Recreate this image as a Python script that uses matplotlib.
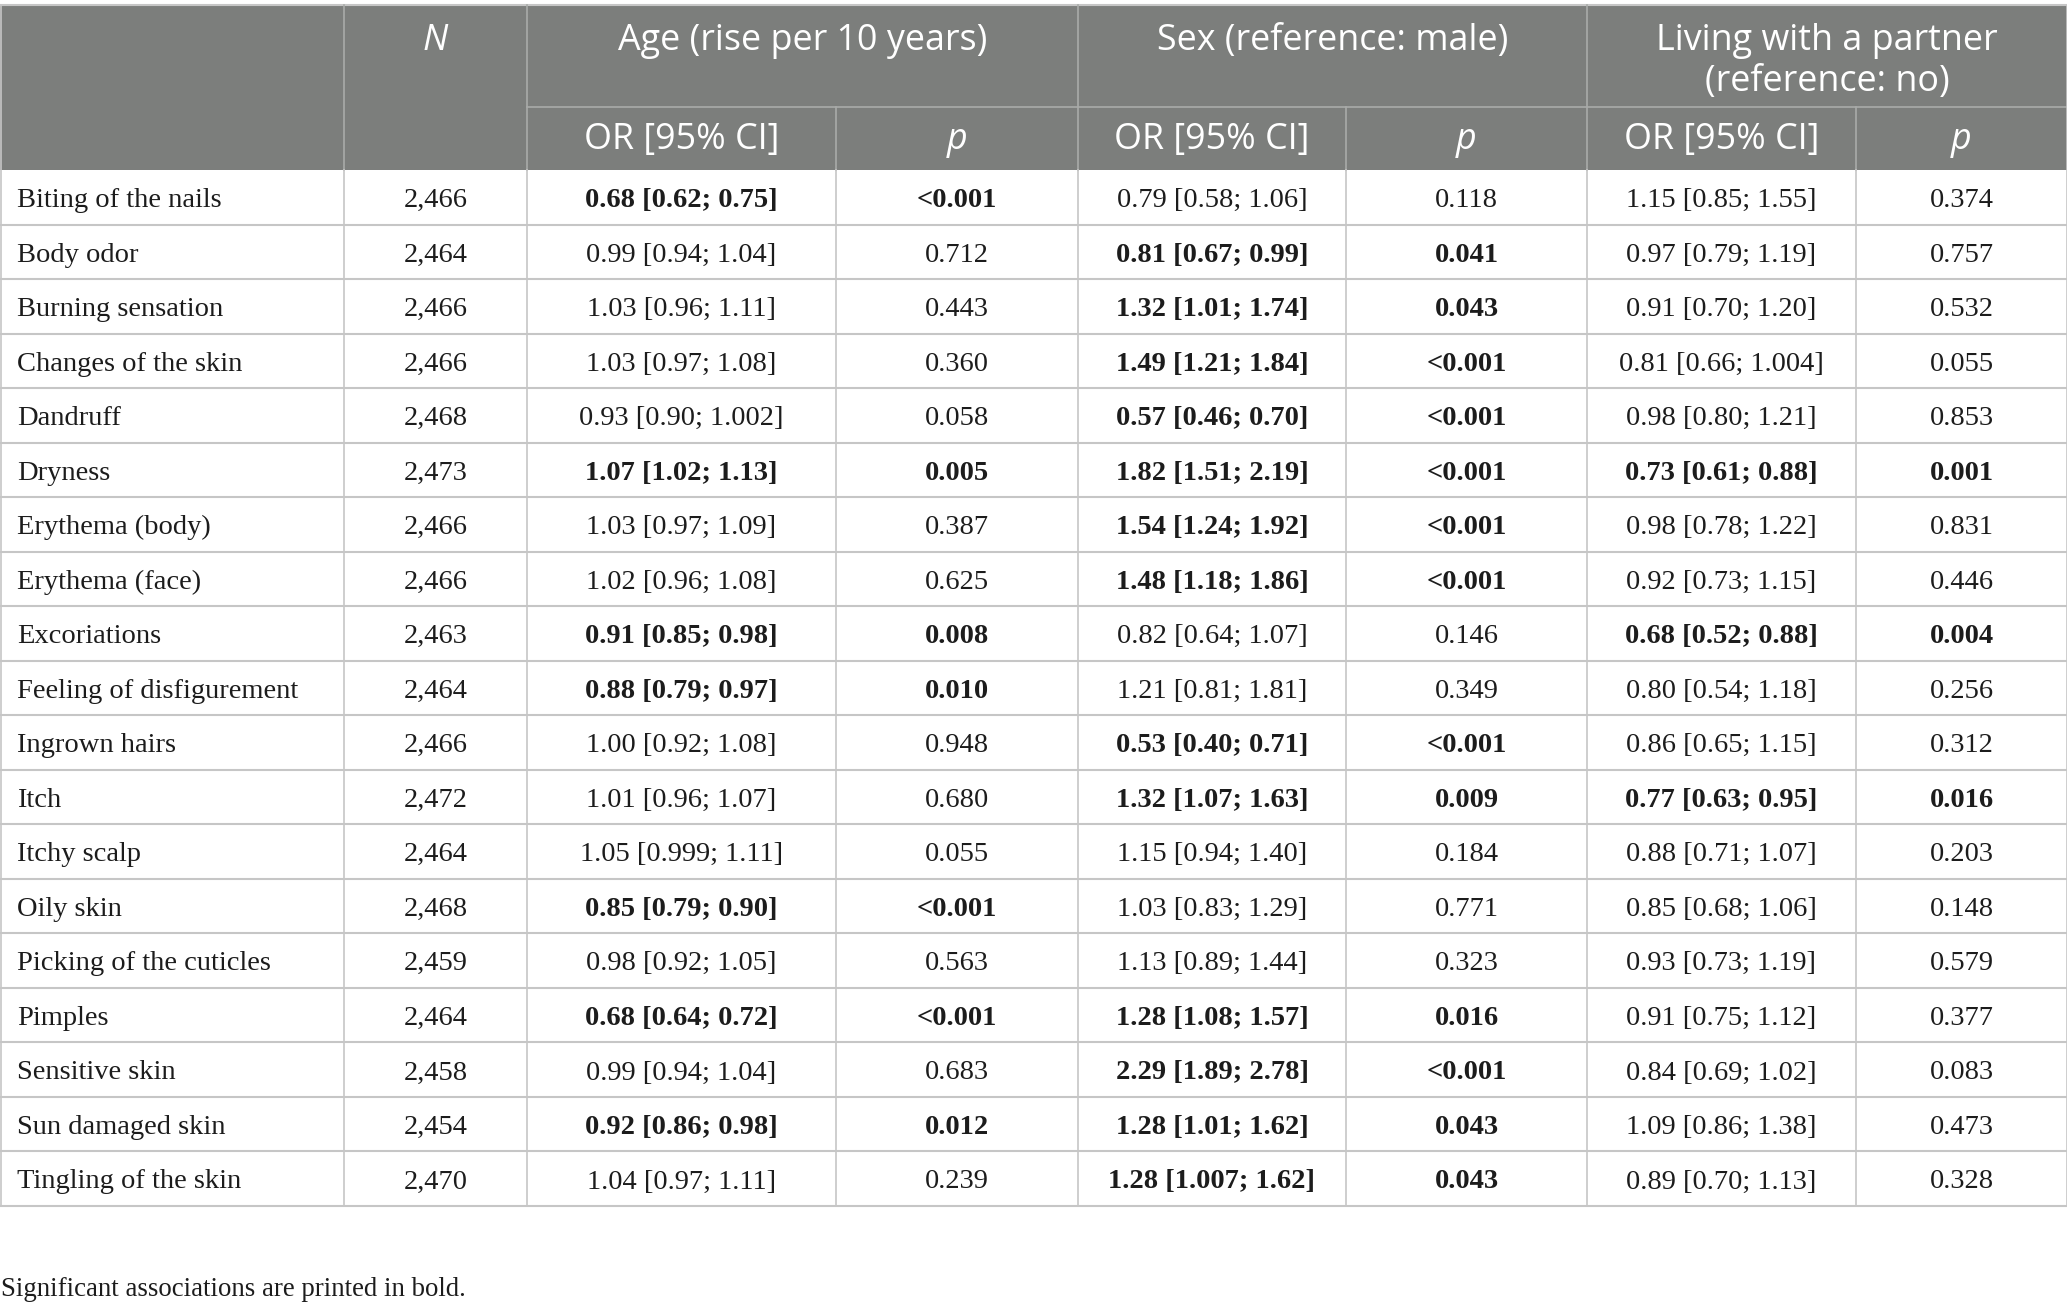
import matplotlib
matplotlib.use("Agg")
import matplotlib.pyplot as plt
from matplotlib.patches import Rectangle

# table content
symptoms = ["Biting of the nails", "Body odor", "Burning sensation", "Changes of the skin",
            "Dandruff", "Dryness", "Erythema (body)", "Erythema (face)", "Excoriations",
            "Feeling of disfigurement", "Ingrown hairs", "Itch", "Itchy scalp", "Oily skin",
            "Picking of the cuticles", "Pimples", "Sensitive skin", "Sun damaged skin",
            "Tingling of the skin"]
n_obs = [2466, 2464, 2466, 2466, 2468, 2473, 2466, 2466, 2463, 2464,
         2466, 2472, 2464, 2468, 2459, 2464, 2458, 2454, 2470]

age_or = ["0.68 [0.62; 0.75]", "0.99 [0.94; 1.04]", "1.03 [0.96; 1.11]", "1.03 [0.97; 1.08]",
          "0.93 [0.90; 1.002]", "1.07 [1.02; 1.13]", "1.03 [0.97; 1.09]", "1.02 [0.96; 1.08]",
          "0.91 [0.85; 0.98]", "0.88 [0.79; 0.97]", "1.00 [0.92; 1.08]", "1.01 [0.96; 1.07]",
          "1.05 [0.999; 1.11]", "0.85 [0.79; 0.90]", "0.98 [0.92; 1.05]", "0.68 [0.64; 0.72]",
          "0.99 [0.94; 1.04]", "0.92 [0.86; 0.98]", "1.04 [0.97; 1.11]"]
age_p = ["<0.001", "0.712", "0.443", "0.360", "0.058", "0.005", "0.387", "0.625", "0.008",
         "0.010", "0.948", "0.680", "0.055", "<0.001", "0.563", "<0.001", "0.683", "0.012", "0.239"]

sex_or = ["0.79 [0.58; 1.06]", "0.81 [0.67; 0.99]", "1.32 [1.01; 1.74]", "1.49 [1.21; 1.84]",
          "0.57 [0.46; 0.70]", "1.82 [1.51; 2.19]", "1.54 [1.24; 1.92]", "1.48 [1.18; 1.86]",
          "0.82 [0.64; 1.07]", "1.21 [0.81; 1.81]", "0.53 [0.40; 0.71]", "1.32 [1.07; 1.63]",
          "1.15 [0.94; 1.40]", "1.03 [0.83; 1.29]", "1.13 [0.89; 1.44]", "1.28 [1.08; 1.57]",
          "2.29 [1.89; 2.78]", "1.28 [1.01; 1.62]", "1.28 [1.007; 1.62]"]
sex_p = ["0.118", "0.041", "0.043", "<0.001", "<0.001", "<0.001", "<0.001", "<0.001", "0.146",
         "0.349", "<0.001", "0.009", "0.184", "0.771", "0.323", "0.016", "<0.001", "0.043", "0.043"]

partner_or = ["1.15 [0.85; 1.55]", "0.97 [0.79; 1.19]", "0.91 [0.70; 1.20]", "0.81 [0.66; 1.004]",
              "0.98 [0.80; 1.21]", "0.73 [0.61; 0.88]", "0.98 [0.78; 1.22]", "0.92 [0.73; 1.15]",
              "0.68 [0.52; 0.88]", "0.80 [0.54; 1.18]", "0.86 [0.65; 1.15]", "0.77 [0.63; 0.95]",
              "0.88 [0.71; 1.07]", "0.85 [0.68; 1.06]", "0.93 [0.73; 1.19]", "0.91 [0.75; 1.12]",
              "0.84 [0.69; 1.02]", "1.09 [0.86; 1.38]", "0.89 [0.70; 1.13]"]
partner_p = ["0.374", "0.757", "0.532", "0.055", "0.853", "0.001", "0.831", "0.446", "0.004",
             "0.256", "0.312", "0.016", "0.203", "0.148", "0.579", "0.377", "0.083", "0.473", "0.328"]

group_titles = [["Age (rise per 10 years)"], ["Sex (reference: male)"],
                ["Living with a partner", "(reference: no)"]]
footnote = "Significant associations are printed in bold."

# layout (pixel space)
W, H = 2067, 1308
col_x = [0, 344, 527, 836, 1078, 1346, 1587, 1856, 2067]
head_top, head_mid, head_bot = 5, 107, 170
row_h = (1206 - head_bot) / len(symptoms)

HEAD_BG = "#7c7e7c"
HEAD_LINE = "#a9aba9"
GRID = "#c6c6c6"
TXT = "#1c1c1c"
serif = "Liberation Serif"
sans = "Open Sans"
HS = 25.8   # header font size
BS = 20.5   # body font size


def is_sig(p):
    return p.startswith("<") or float(p) < 0.05


fig = plt.figure(figsize=(W / 100, H / 100), dpi=100)
ax = fig.add_axes([0, 0, 1, 1])
ax.set_xlim(0, W)
ax.set_ylim(H, 0)
ax.axis("off")

# header block
ax.add_patch(Rectangle((0, head_top), W, head_bot - head_top, color=HEAD_BG, lw=0))
ax.plot([0, W], [head_top, head_top], color=GRID, lw=1.5)
for x in [col_x[1], col_x[2], col_x[4], col_x[6]]:
    ax.plot([x, x], [head_top, head_bot], color=HEAD_LINE, lw=1.2)
for x in [col_x[3], col_x[5], col_x[7]]:
    ax.plot([x, x], [head_mid, head_bot], color=HEAD_LINE, lw=1.2)
ax.plot([col_x[2], W], [head_mid, head_mid], color=HEAD_LINE, lw=1.2)

cx = [(col_x[i] + col_x[i + 1]) / 2 for i in range(len(col_x) - 1)]
ax.text(cx[1], 50, "N", ha="center", va="baseline", color="white", fontsize=HS,
        family=sans, style="italic")
for g, lines in enumerate(group_titles):
    xm = (col_x[2 + 2 * g] + col_x[4 + 2 * g]) / 2
    for j, line in enumerate(lines):
        ax.text(xm, 50 + 41 * j, line, ha="center", va="baseline", color="white",
                fontsize=HS, family=sans)
    ax.text(cx[2 + 2 * g], 149, "OR [95% CI]", ha="center", va="baseline", color="white",
            fontsize=HS, family=sans)
    ax.text(cx[3 + 2 * g], 149, "p", ha="center", va="baseline", color="white",
            fontsize=HS, family=sans, style="italic")

# body
for i, name in enumerate(symptoms):
    y0 = head_bot + i * row_h
    yb = y0 + 37
    ax.text(17, yb, name, ha="left", va="baseline", color=TXT, fontsize=BS, family=serif)
    ax.text(cx[1], yb, f"{n_obs[i]:,}", ha="center", va="baseline", color=TXT,
            fontsize=BS, family=serif)
    for k, (ors, ps) in enumerate([(age_or, age_p), (sex_or, sex_p), (partner_or, partner_p)]):
        w = "bold" if is_sig(ps[i]) else "normal"
        ax.text(cx[2 + 2 * k], yb, ors[i], ha="center", va="baseline", color=TXT,
                fontsize=BS, family=serif, weight=w)
        ax.text(cx[3 + 2 * k], yb, ps[i], ha="center", va="baseline", color=TXT,
                fontsize=BS, family=serif, weight=w)
    ax.plot([0, W], [y0 + row_h, y0 + row_h], color=GRID, lw=1.5)

body_bot = head_bot + len(symptoms) * row_h
for x in col_x[1:-1]:
    ax.plot([x, x], [head_bot, body_bot], color=GRID, lw=1.2)
ax.plot([0.5, 0.5], [head_top, body_bot], color=GRID, lw=1.2)
ax.plot([W - 0.5, W - 0.5], [head_top, body_bot], color=GRID, lw=1.2)

ax.text(1, 1290, footnote, ha="left", va="center", color=TXT, fontsize=19.3, family=serif)

fig.savefig("out.png", dpi=100)
